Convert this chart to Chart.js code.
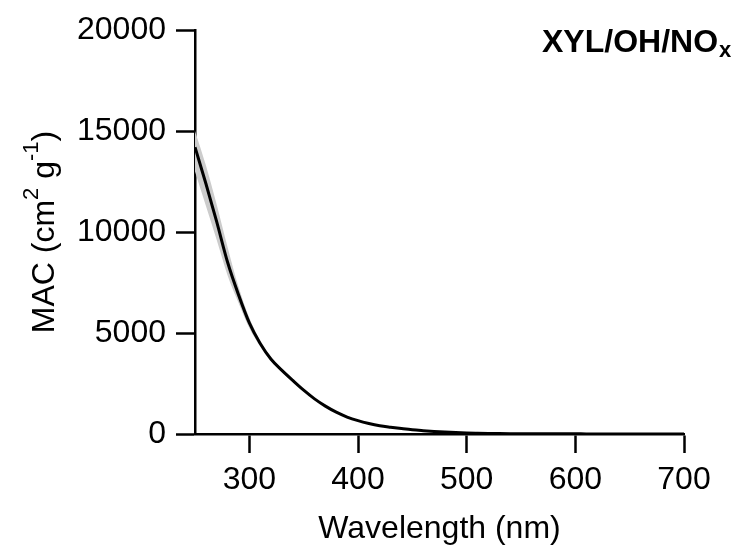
<!DOCTYPE html>
<html>
<head>
<meta charset="utf-8">
<script src="https://cdn.jsdelivr.net/npm/chart.js@4/dist/chart.umd.min.js"></script>
<style>
  html, body { margin: 0; padding: 0; background: #fff; }
  #wrap { width: 746px; height: 548px; }
</style>
</head>
<body>
<div id="wrap"><canvas id="macChart" width="746" height="548"></canvas></div>
<script>
// wavelength (nm)
const wavelengths = [250, 260, 270, 280, 290, 300, 310, 320, 330, 340, 350, 360, 370, 380, 390,
  400, 410, 420, 430, 440, 450, 460, 470, 480, 490, 500, 510, 520, 530, 540, 550, 560, 570,
  580, 590, 600, 610, 620, 630, 640, 650, 660, 670, 680, 690, 700];
// mean MAC (cm2 g-1)
const mac = [14200, 12400, 10500, 8500, 6900, 5500, 4480, 3700, 3150, 2650, 2170, 1740, 1380, 1080, 840,
  660, 520, 410, 335, 270, 210, 165, 125, 95, 70, 52, 40, 30, 23, 18, 14, 12, 10,
  9, 8, 7, 6, 5, 5, 4, 4, 3, 3, 3, 2, 2];
// uncertainty band
const macUpper = [15000, 13300, 11350, 9250, 7300, 5750, 4620, 3800, 3230, 2710, 2215, 1775, 1410, 1100, 855,
  670, 528, 416, 340, 274, 213, 167, 127, 97, 72, 54, 41, 31, 24, 19, 15, 13, 11,
  10, 9, 8, 7, 6, 6, 5, 5, 4, 4, 4, 3, 3];
const macLower = [13000, 11300, 9600, 7850, 6500, 5250, 4340, 3600, 3070, 2590, 2125, 1705, 1350, 1060, 825,
  650, 512, 404, 330, 266, 207, 163, 123, 93, 68, 50, 39, 29, 22, 17, 13, 11, 9,
  8, 7, 6, 5, 4, 4, 3, 3, 2, 2, 2, 1, 1];

const xTicks = [300, 400, 500, 600, 700];
const yTicks = [0, 5000, 10000, 15000, 20000];

const FONT = "'Liberation Sans', Arial, sans-serif";

const toXY = (ys) => wavelengths.map((w, i) => ({ x: w, y: ys[i] }));

// axis titles and panel label, drawn with super/subscripts
const labelsPlugin = {
  id: "labels",
  afterDraw(chart) {
    const ctx = chart.ctx;
    const area = chart.chartArea;
    ctx.save();
    ctx.fillStyle = "#000";
    ctx.textBaseline = "alphabetic";

    // x title
    ctx.font = "32px " + FONT;
    ctx.textAlign = "center";
    ctx.fillText("Wavelength (nm)", (area.left + area.right) / 2, 538);

    // y title: MAC (cm^2 g^-1)
    const parts = [
      { t: "MAC (cm", size: 32, dy: 0 },
      { t: "2", size: 22, dy: -16 },
      { t: " g", size: 32, dy: 0 },
      { t: "-1", size: 22, dy: -16 },
      { t: ")", size: 32, dy: 0 },
    ];
    let total = 0;
    parts.forEach((p) => {
      ctx.font = p.size + "px " + FONT;
      p.w = ctx.measureText(p.t).width;
      total += p.w;
    });
    ctx.translate(54, (area.top + area.bottom) / 2);
    ctx.rotate(-Math.PI / 2);
    ctx.textAlign = "left";
    let x = -total / 2;
    parts.forEach((p) => {
      ctx.font = p.size + "px " + FONT;
      ctx.fillText(p.t, x, p.dy);
      x += p.w;
    });
    ctx.restore();

    // panel label XYL/OH/NOx
    ctx.save();
    ctx.fillStyle = "#000";
    ctx.textBaseline = "alphabetic";
    ctx.textAlign = "left";
    ctx.font = "bold 32px " + FONT;
    const main = "XYL/OH/NO";
    ctx.fillText(main, 542, 52);
    const mw = ctx.measureText(main).width;
    ctx.font = "bold 22px " + FONT;
    ctx.fillText("x", 542 + mw + 1, 57);
    ctx.restore();
  },
};

const ctx = document.getElementById("macChart").getContext("2d");
new Chart(ctx, {
  type: "line",
  data: {
    datasets: [
      {
        label: "MAC",
        data: toXY(mac),
        borderColor: "#000",
        borderWidth: 3,
        pointRadius: 0,
        fill: false,
        cubicInterpolationMode: "monotone",
      },
      {
        label: "upper",
        data: toXY(macUpper),
        borderWidth: 0,
        borderColor: "rgba(0,0,0,0)",
        backgroundColor: "#cccccc",
        pointRadius: 0,
        fill: "+1",
        cubicInterpolationMode: "monotone",
      },
      {
        label: "lower",
        data: toXY(macLower),
        borderWidth: 0,
        borderColor: "rgba(0,0,0,0)",
        pointRadius: 0,
        fill: false,
        cubicInterpolationMode: "monotone",
      },
    ],
  },
  options: {
    responsive: false,
    animation: false,
    events: [],
    layout: {
      padding: { left: 0, top: 30, right: 62, bottom: 0 },
    },
    plugins: {
      legend: { display: false },
      tooltip: { enabled: false },
    },
    scales: {
      x: {
        type: "linear",
        min: 250,
        max: 700,
        afterBuildTicks: (axis) => {
          axis.ticks = xTicks.map((v) => ({ value: v }));
        },
        afterFit: (s) => {
          s.height = 114;
        },
        grid: {
          drawOnChartArea: false,
          drawTicks: true,
          tickLength: 19,
          tickWidth: 2.5,
          tickColor: "#000",
        },
        border: { display: true, color: "#000", width: 2.5 },
        ticks: {
          color: "#000",
          padding: 8,
          maxRotation: 0,
          font: { family: FONT, size: 32 },
        },
      },
      y: {
        min: 0,
        max: 20000,
        afterBuildTicks: (axis) => {
          axis.ticks = yTicks.map((v) => ({ value: v }));
        },
        afterFit: (s) => {
          s.width = 195;
        },
        grid: {
          drawOnChartArea: false,
          drawTicks: true,
          tickLength: 19,
          tickWidth: 2.5,
          tickColor: "#000",
        },
        border: { display: true, color: "#000", width: 2.5 },
        ticks: {
          color: "#000",
          padding: 10,
          font: { family: FONT, size: 32 },
          callback: (v) => String(v),
        },
      },
    },
  },
  plugins: [labelsPlugin],
});
</script>
</body>
</html>
